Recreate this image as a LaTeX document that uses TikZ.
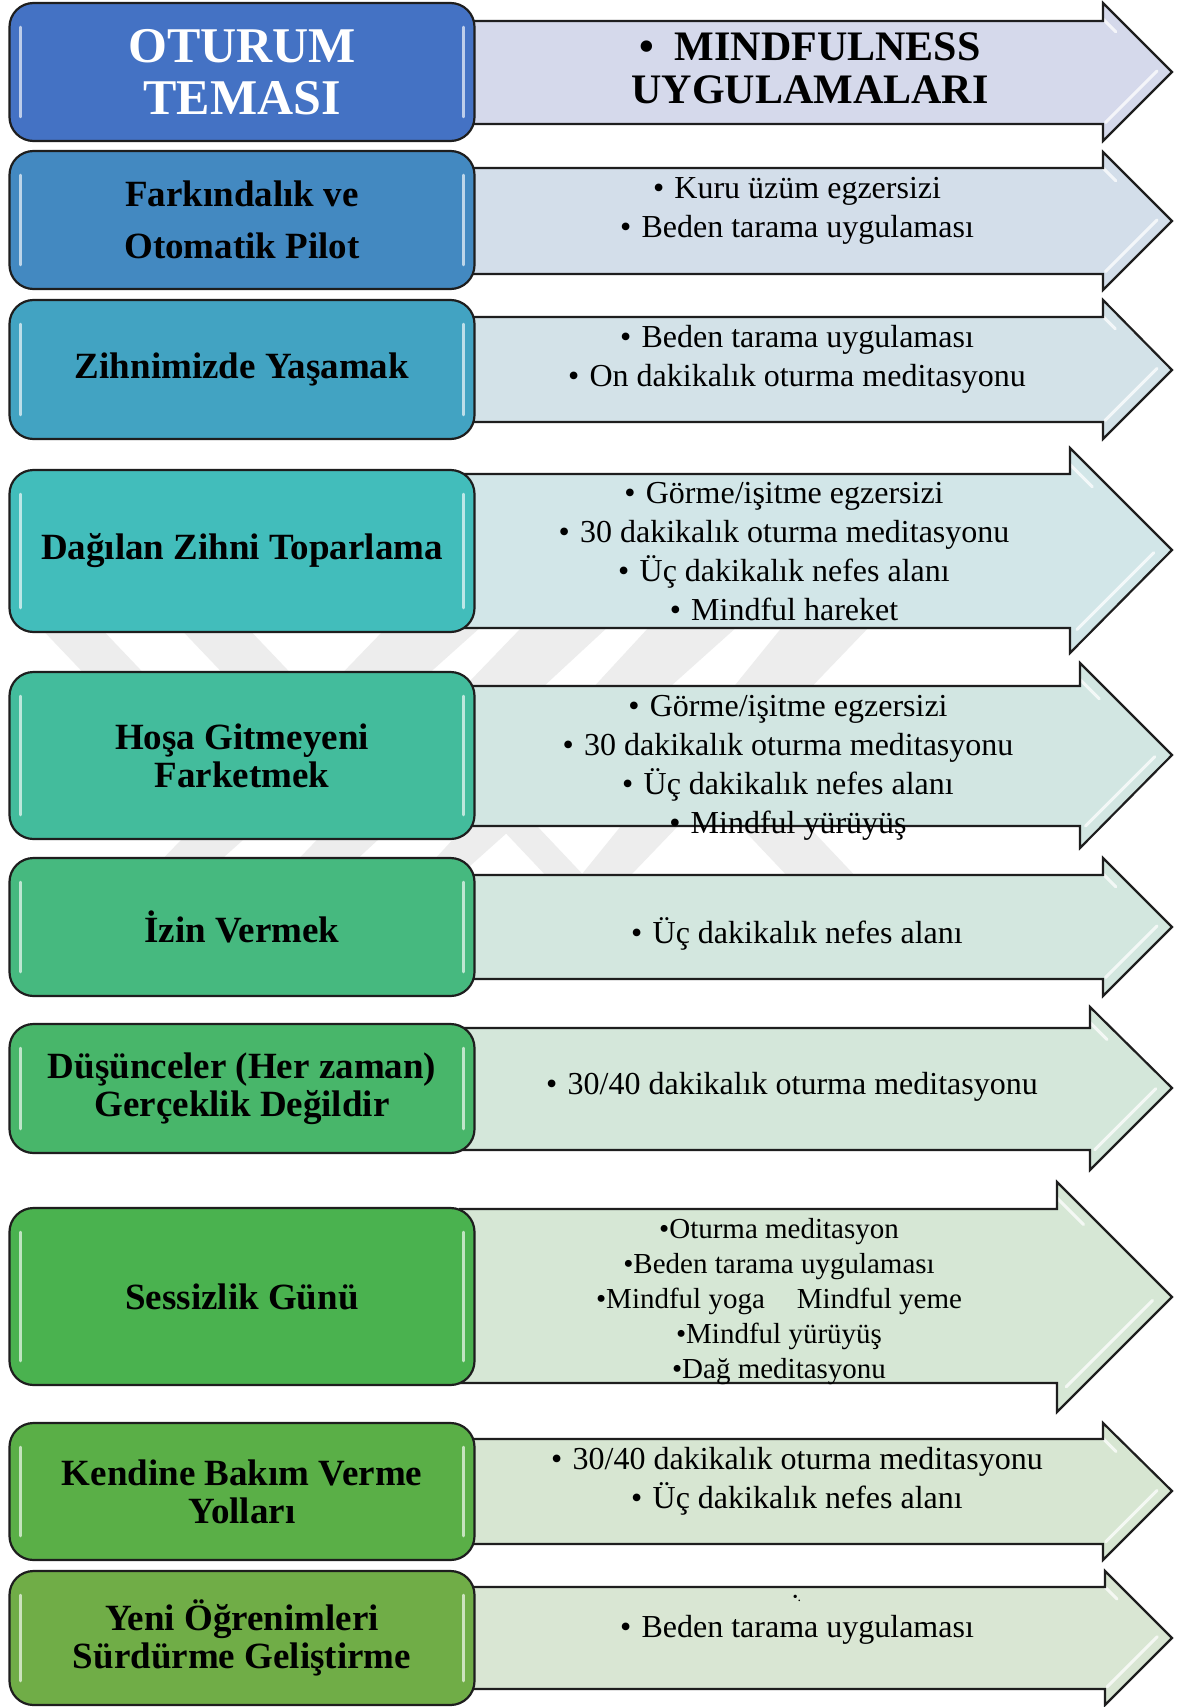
\documentclass[tikz,border=0pt]{standalone}
\usepackage{fontspec}
\setmainfont{Liberation Serif}
\usepackage{xcolor}
\usepackage{tikz}
\usetikzlibrary{calc}
\definecolor{kutu1}{HTML}{4472C4}
\definecolor{kutu2}{HTML}{4389C1}
\definecolor{kutu3}{HTML}{42A3C2}
\definecolor{kutu4}{HTML}{42BDBB}
\definecolor{kutu5}{HTML}{43BC9C}
\definecolor{kutu6}{HTML}{46B97F}
\definecolor{kutu7}{HTML}{48B66A}
\definecolor{kutu8}{HTML}{4AB24F}
\definecolor{kutu9}{HTML}{5AAF47}
\definecolor{kutu10}{HTML}{70AD47}
\definecolor{ok1}{HTML}{D5D9EB}
\definecolor{ok2}{HTML}{D3DEEA}
\definecolor{ok3}{HTML}{D3E2E8}
\definecolor{ok4}{HTML}{D2E6E8}
\definecolor{ok5}{HTML}{D2E6E2}
\definecolor{ok6}{HTML}{D3E7DF}
\definecolor{ok7}{HTML}{D4E7DA}
\definecolor{ok8}{HTML}{D6E7D5}
\definecolor{ok9}{HTML}{D7E6D2}
\definecolor{ok10}{HTML}{D9E6D3}
\definecolor{cizgi}{HTML}{1E1E1E}
\definecolor{damgagri}{HTML}{EDEDED}
\newcommand{\mad}{•\hspace{0.32em}}
\tikzset{
  tema/.style={rectangle,rounded corners=24pt,draw=cizgi,line width=2.2pt,minimum width=465pt,
    align=center,inner sep=4pt,font=\bfseries\fontsize{37}{38}\selectfont,
    path picture={
      \draw[white,opacity=.65,line width=2.5pt,line cap=round]
        ([xshift=11pt,yshift=-24pt]path picture bounding box.north west) --
        ([xshift=11pt,yshift=24pt]path picture bounding box.south west)
        ([xshift=-11pt,yshift=-24pt]path picture bounding box.north east) --
        ([xshift=-11pt,yshift=24pt]path picture bounding box.south east);
    }},
  okgovde/.style={draw=cizgi,line width=2.2pt,
    path picture={
      \coordinate (uc) at (path picture bounding box.east);
      \coordinate (ak) at ($(path picture bounding box.south east)!1!90:(uc)$);
      \coordinate (ust) at ($(path picture bounding box.north east)!1!-90:(uc)$);
      \draw[white,opacity=.75,line width=3pt,line cap=round]
        ([shift={(-8pt,8pt)}]$(uc)!.1!(ak)$) -- ([shift={(-8pt,8pt)}]$(uc)!.85!(ak)$)
        ([shift={(-8pt,-8pt)}]$(ust)!.05!(uc)$) -- ([shift={(-8pt,-8pt)}]$(ust)!.3!(uc)$);
    }},
  uyg/.style={align=center,inner sep=0pt,font=\fontsize{32}{39}\selectfont},
  damga/.style={fill=damgagri}
}
\begin{document}
\begin{tikzpicture}[x=1pt,y=-1pt]
    \useasboundingbox (0,0) rectangle (1182,1707);
    \fill[white] (0,0) rectangle (1182,1707);

    % watermark
    \fill[damga] (14,600) -- (74,600) -- (236,770) -- (176,770) -- cycle;
    \fill[damga] (153,600) -- (221,600) -- (383,770) -- (315,770) -- cycle;
    \fill[damga] (413,600) -- (511,600) -- (176,900) -- (123,900) -- cycle;
    \fill[damga] (548,600) -- (637,600) -- (313,900) -- (259,900) -- cycle;
    \fill[damga] (674,600) -- (767,600) -- (432,900) -- (397,900) -- cycle;
    \fill[damga] (804,600) -- (895,600) -- (607,900) -- (561,900) -- cycle;
    \fill[damga] (446,770) -- (484,770) -- (607,900) -- (569,900) -- cycle;
    \fill[damga] (687,770) -- (755,770) -- (878,900) -- (810,900) -- cycle;

    % arrows
    \draw[okgovde,fill=ok1] (460,21) -- (1103,21) -- (1103,3) -- (1172,72) -- (1103,141) -- (1103,124) -- (460,124) -- cycle;
    \draw[okgovde,fill=ok2] (460,168) -- (1103,168) -- (1103,152) -- (1172,221) -- (1103,290) -- (1103,274) -- (460,274) -- cycle;
    \draw[okgovde,fill=ok3] (460,317) -- (1103,317) -- (1103,300) -- (1172,370) -- (1103,439) -- (1103,422) -- (460,422) -- cycle;
    \draw[okgovde,fill=ok4] (460,474) -- (1070,474) -- (1070,448) -- (1172,550) -- (1070,653) -- (1070,628) -- (460,628) -- cycle;
    \draw[okgovde,fill=ok5] (460,686) -- (1080,686) -- (1080,663) -- (1172,755) -- (1080,848) -- (1080,826) -- (460,826) -- cycle;
    \draw[okgovde,fill=ok6] (460,875) -- (1103,875) -- (1103,858) -- (1172,927) -- (1103,996) -- (1103,979) -- (460,979) -- cycle;
    \draw[okgovde,fill=ok7] (460,1028) -- (1090,1028) -- (1090,1007) -- (1172,1088) -- (1090,1170) -- (1090,1150) -- (460,1150) -- cycle;
    \draw[okgovde,fill=ok8] (460,1209) -- (1057,1209) -- (1057,1182) -- (1172,1297) -- (1057,1412) -- (1057,1383) -- (460,1383) -- cycle;
    \draw[okgovde,fill=ok9] (460,1439) -- (1103,1439) -- (1103,1423) -- (1172,1491) -- (1103,1560) -- (1103,1544) -- (460,1544) -- cycle;
    \draw[okgovde,fill=ok10] (460,1587) -- (1105,1587) -- (1105,1571) -- (1172,1638) -- (1105,1705) -- (1105,1689) -- (460,1689) -- cycle;

    % session themes
    \node[tema,fill=kutu1,text=white,minimum height=138pt,font=\bfseries\fontsize{50}{52}\selectfont] (tema1) at (242,72) {OTURUM\\TEMASI};
    \node[tema,fill=kutu2,minimum height=138pt] (tema2) at (242,220) {Farkındalık ve\\[14pt]Otomatik Pilot};
    \node[tema,fill=kutu3,minimum height=139pt] (tema3) at (242,369.5) {Zihnimizde Yaşamak};
    \node[tema,fill=kutu4,minimum height=162pt] (tema4) at (242,551) {Dağılan Zihni Toparlama};
    \node[tema,fill=kutu5,minimum height=167pt] (tema5) at (242,755.5) {Hoşa Gitmeyeni\\Farketmek};
    \node[tema,fill=kutu6,minimum height=138pt] (tema6) at (242,927) {İzin Vermek};
    \node[tema,fill=kutu7,minimum height=129pt] (tema7) at (242,1088.5) {Düşünceler (Her zaman)\\Gerçeklik Değildir};
    \node[tema,fill=kutu8,minimum height=177pt] (tema8) at (242,1296.5) {Sessizlik Günü};
    \node[tema,fill=kutu9,minimum height=137pt] (tema9) at (242,1491.5) {Kendine Bakım Verme\\Yolları};
    \node[tema,fill=kutu10,minimum height=134pt] (tema10) at (242,1638) {Yeni Öğrenimleri\\Sürdürme Geliştirme};

    % practices
    \node[uyg,font=\bfseries\fontsize{42}{43}\selectfont] (uyg1) at (810,68) {•\hspace{0.5em}MINDFULNESS\\UYGULAMALARI};
    \node[uyg] (uyg2) at (797,211) {\mad Kuru üzüm egzersizi\\\mad Beden tarama uygulaması};
    \node[uyg] (uyg3) at (797,359) {\mad Beden tarama uygulaması\\\mad On dakikalık oturma meditasyonu};
    \node[uyg] (uyg4) at (784,552) {\mad Görme/işitme egzersizi\\\mad 30 dakikalık oturma meditasyonu\\\mad Üç dakikalık nefes alanı\\\mad Mindful hareket};
    \node[uyg] (uyg5) at (788,768) {\mad Görme/işitme egzersizi\\\mad 30 dakikalık oturma meditasyonu\\\mad Üç dakikalık nefes alanı\\\mad Mindful yürüyüş};
    \node[uyg] (uyg6) at (797,934) {\mad Üç dakikalık nefes alanı};
    \node[uyg] (uyg7) at (792,1087) {\mad 30/40 dakikalık oturma meditasyonu};
    \node[uyg,font=\fontsize{29}{35}\selectfont] (uyg8) at (779,1302) {•Oturma meditasyon\\•Beden tarama uygulaması\\•Mindful yoga\hspace{1.1em}Mindful yeme\\•Mindful yürüyüş\\•Dağ meditasyonu};
    \node[uyg] (uyg9) at (797,1481) {\mad 30/40 dakikalık oturma meditasyonu\\\mad Üç dakikalık nefes alanı};
    \node[uyg,font=\fontsize{14}{14}\selectfont] (uyg10a) at (797,1598) {•.};
    \node[uyg] (uyg10) at (797,1630) {\mad Beden tarama uygulaması};
\end{tikzpicture}
\end{document}
